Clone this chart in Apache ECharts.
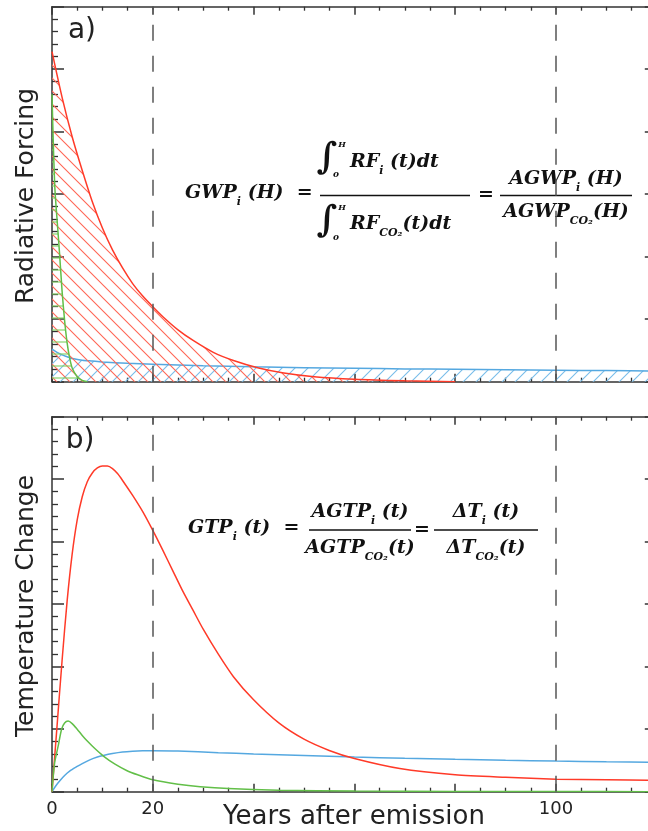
<!DOCTYPE html>
<html><head><meta charset="utf-8">
<script src="https://cdn.jsdelivr.net/npm/echarts@6/dist/echarts.min.js"></script>
<style>html,body{margin:0;padding:0;background:#fff}#c{width:648px;height:831px}</style>
</head><body><div id="c"></div>
<script>
// ---- data ----
const xTickLabels = [0, 20, 100];
const markYears = [20, 100];

// a) radiative forcing
const rfRedYears = [0,2,4,6,8,10,12,14,16,18,20,22,25,28,32,36,41,46,52,60,70,80];
const rfRedVals  = [5.28,4.55,3.92,3.38,2.88,2.46,2.11,1.82,1.57,1.37,1.2,1.04,0.83,0.66,0.47,0.34,0.22,0.14,0.08,0.04,0.015,0];
const rfGreenYears = [0,0.3,0.6,1,1.5,2,2.5,3,3.5,4,5,6,7];
const rfGreenVals  = [4.6,3.7,3.05,2.6,2.05,1.45,0.98,0.62,0.38,0.22,0.08,0.02,0];
const rfBlueYears = [0,1,2,3,4,6,8,10,15,20,30,40,50,60,70,80,90,100,110,120];
const rfBlueVals  = [0.52,0.47,0.43,0.40,0.37,0.345,0.33,0.315,0.295,0.28,0.255,0.238,0.225,0.215,0.205,0.198,0.19,0.184,0.178,0.172];

// b) temperature change
const dtRedYears = [0,1,2,3,4,5,6,7,8,9,10,11,12,13,14,16,18,20,22,24,26,28,30,33,36,40,45,50,55,60,69,80,90,100,110,120];
const dtRedVals  = [0,1.05,2.1,3.05,3.8,4.35,4.72,4.96,5.1,5.18,5.21,5.21,5.17,5.09,4.98,4.74,4.48,4.18,3.86,3.53,3.2,2.9,2.6,2.2,1.84,1.47,1.1,0.84,0.66,0.53,0.37,0.27,0.23,0.2,0.19,0.18];
const dtGreenYears = [0,0.5,1.25,1.9,2.5,3.2,4,5,6,7,8.5,10.2,12.5,14.8,17,20,25,29.4,35,45,60,80,100,120];
const dtGreenVals  = [0,0.45,0.74,1.0,1.1,1.13,1.09,1.0,0.9,0.81,0.69,0.57,0.44,0.34,0.27,0.19,0.12,0.08,0.05,0.025,0.01,0.004,0.002,0.001];
const dtBlueYears = [0,0.8,1.6,2.5,3.5,4.9,6,7.5,9,10.2,12,14,16,18,20,25,33,40,50,60,70,80,90,100,110,120];
const dtBlueVals  = [0,0.1,0.18,0.26,0.33,0.4,0.45,0.51,0.555,0.58,0.61,0.635,0.648,0.655,0.656,0.652,0.625,0.605,0.58,0.555,0.535,0.518,0.503,0.49,0.478,0.468];

// ---- styling ----
const RED = '#ff3a28', GREEN = '#62bf48', BLUE = '#55a8e0';
const RED_H = '#ff6655', GREEN_H = '#7fcf62', BLUE_H = '#78bde9';
const AX = '#333';
const SANS = '"DejaVu Sans", sans-serif';
const SERIF = '"DejaVu Serif", serif';

function pairs(xs, ys) { return xs.map((x, i) => [x, ys[i]]); }
function hatch(kind, color, s) {
  const c = document.createElement('canvas'); c.width = s; c.height = s;
  const g = c.getContext('2d'); g.strokeStyle = color; g.lineWidth = 1.1; g.beginPath();
  if (kind === 'back') { g.moveTo(0,0); g.lineTo(s,s); g.moveTo(-s/2,s/2); g.lineTo(s/2,1.5*s); g.moveTo(s/2,-s/2); g.lineTo(1.5*s,s/2); }
  else if (kind === 'fwd') { g.moveTo(0,s); g.lineTo(s,0); g.moveTo(-s/2,s/2); g.lineTo(s/2,-s/2); g.moveTo(s/2,1.5*s); g.lineTo(1.5*s,s/2); }
  else { g.moveTo(0, s/2); g.lineTo(s, s/2); }
  g.stroke(); return c;
}

function xAx(gi, pos, showLabel) {
  return { type:'value', gridIndex:gi, position:pos, min:0, max:120, interval:20,
    axisLine:{show:true, onZero:false, lineStyle:{color:AX, width:1.5}},
    axisTick:{show:true, inside:true, length:8, lineStyle:{color:AX, width:1.5}},
    minorTick:{show:true, splitNumber:4, length:4, lineStyle:{color:AX, width:1.3}},
    splitLine:{show:false}, minorSplitLine:{show:false},
    axisLabel:{show:showLabel, margin:9, fontSize:18, color:'#222', fontFamily:SANS,
      formatter: v => xTickLabels.indexOf(v) >= 0 ? String(v) : ''} };
}
function yAx(gi, pos) {
  return { type:'value', gridIndex:gi, position:pos, min:0, max:6, interval:1,
    axisLine:{show:true, onZero:false, lineStyle:{color:AX, width:1.5}},
    axisTick:{show:true, inside:true, length:12, lineStyle:{color:AX, width:1.5}},
    minorTick:{show:true, splitNumber:5, length:6, lineStyle:{color:AX, width:1.3}},
    splitLine:{show:false}, minorSplitLine:{show:false}, axisLabel:{show:false} };
}
const mark = {
  silent:true, symbol:['none','none'], label:{show:false},
  lineStyle:{type:[16,15], color:'#555', width:1.5},
  data: markYears.map(y => ({xAxis:y}))
};
function line(xi, yi, xs, ys, color, extra) {
  return Object.assign({ type:'line', xAxisIndex:xi, yAxisIndex:yi, data:pairs(xs, ys),
    symbol:'none', smooth:0.25, lineStyle:{color:color, width:1.5}, itemStyle:{color:color} }, extra || {});
}

// ---- equation helpers ----
const richBase = (size, va, lh) => ({fontFamily:SERIF, fontStyle:'italic', fontWeight:'bold', fontSize:size, lineHeight:lh, verticalAlign:va, fill:'#111'});
const RICH = { m: richBase(19, 'middle', 30), s: richBase(11, 'bottom', 13) };
function eq(x, y, text, align) {
  return { type:'text', x:x, y:y, silent:true, style:{ text:text, rich:RICH, align:align || 'left', verticalAlign:'middle',
    fontFamily:SERIF, fontStyle:'italic', fontWeight:'bold', fontSize:19, fill:'#111' } };
}
function small(x, y, t, size) {
  return { type:'text', x:x, y:y, silent:true, style:{ text:t, align:'center', verticalAlign:'middle',
    fontFamily:SERIF, fontStyle:'italic', fontWeight:'bold', fontSize:size, fill:'#111' } };
}
function bar(x1, x2, y) {
  return { type:'line', silent:true, shape:{x1:x1, y1:y, x2:x2, y2:y}, style:{stroke:'#111', lineWidth:1.3} };
}
function label(x, y, t, size, rot) {
  return { type:'text', x:x, y:y, rotation:rot || 0, silent:true, style:{ text:t, align:'center', verticalAlign:'middle',
    fontFamily:SANS, fontSize:size, fill:'#222' } };
}

const graphics = [
  label(82, 31, 'a)', 28), label(80, 441, 'b)', 28),
  label(26, 196, 'Radiative Forcing', 25, Math.PI/2),
  label(26, 606, 'Temperature Change', 25, Math.PI/2),
  label(354, 817, 'Years after emission', 26),
  // GWP equation
  eq(185, 193, '{m|GWP}{s|i}{m| (H)  =}'),
  small(327, 159, '∫', 36), small(342, 145, 'H', 8), small(336, 175, 'o', 9),
  eq(350, 162, '{m|RF}{s|i}{m| (t)dt}'),
  bar(320, 470, 195.5),
  small(327, 222, '∫', 36), small(342, 208, 'H', 8), small(336, 238, 'o', 9),
  eq(350, 224, '{m|RF}{s|CO₂}{m|(t)dt}'),
  eq(486, 195, '{m|=}', 'center'),
  eq(566, 179, '{m|AGWP}{s|i}{m| (H)}', 'center'),
  bar(500, 632, 195.5),
  eq(566, 212, '{m|AGWP}{s|CO₂}{m|(H)}', 'center'),
  // GTP equation
  eq(188, 528, '{m|GTP}{s|i}{m| (t)  =}'),
  eq(360, 512, '{m|AGTP}{s|i}{m| (t)}', 'center'),
  bar(309, 411, 530),
  eq(360, 548, '{m|AGTP}{s|CO₂}{m|(t)}', 'center'),
  eq(422, 530, '{m|=}', 'center'),
  eq(486, 512, '{m|ΔT}{s|i}{m| (t)}', 'center'),
  bar(434, 538, 530),
  eq(486, 548, '{m|ΔT}{s|CO₂}{m|(t)}', 'center')
];

const chart = echarts.init(document.getElementById('c'), null, {renderer:'canvas'});
chart.setOption({
  animation:false,
  backgroundColor:'#fff',
  grid:[{left:52, top:6.7, width:604.8, height:375, containLabel:false, outerBoundsMode:'none'},
        {left:52, top:416.7, width:604.8, height:375, containLabel:false, outerBoundsMode:'none'}],
  xAxis:[xAx(0,'bottom',false), xAx(0,'top',false), xAx(1,'bottom',true), xAx(1,'top',false)],
  yAxis:[yAx(0,'left'), yAx(0,'right'), yAx(1,'left'), yAx(1,'right')],
  series:[
    line(0,0, rfBlueYears, rfBlueVals, BLUE, {z:2, areaStyle:{color:{image:hatch('fwd', BLUE_H, 13), repeat:'repeat'}, opacity:1}}),
    line(0,0, rfRedYears, rfRedVals, RED, {z:3, areaStyle:{color:{image:hatch('back', RED_H, 13), repeat:'repeat'}, opacity:1}, markLine:mark}),
    line(0,0, rfGreenYears, rfGreenVals, GREEN, {z:4, areaStyle:{color:{image:hatch('horiz', GREEN_H, 12), repeat:'repeat'}, opacity:1}}),
    line(2,2, dtBlueYears, dtBlueVals, BLUE, {z:2}),
    line(2,2, dtRedYears, dtRedVals, RED, {z:3, markLine:mark}),
    line(2,2, dtGreenYears, dtGreenVals, GREEN, {z:4})
  ],
  graphic: graphics
});
</script></body></html>
